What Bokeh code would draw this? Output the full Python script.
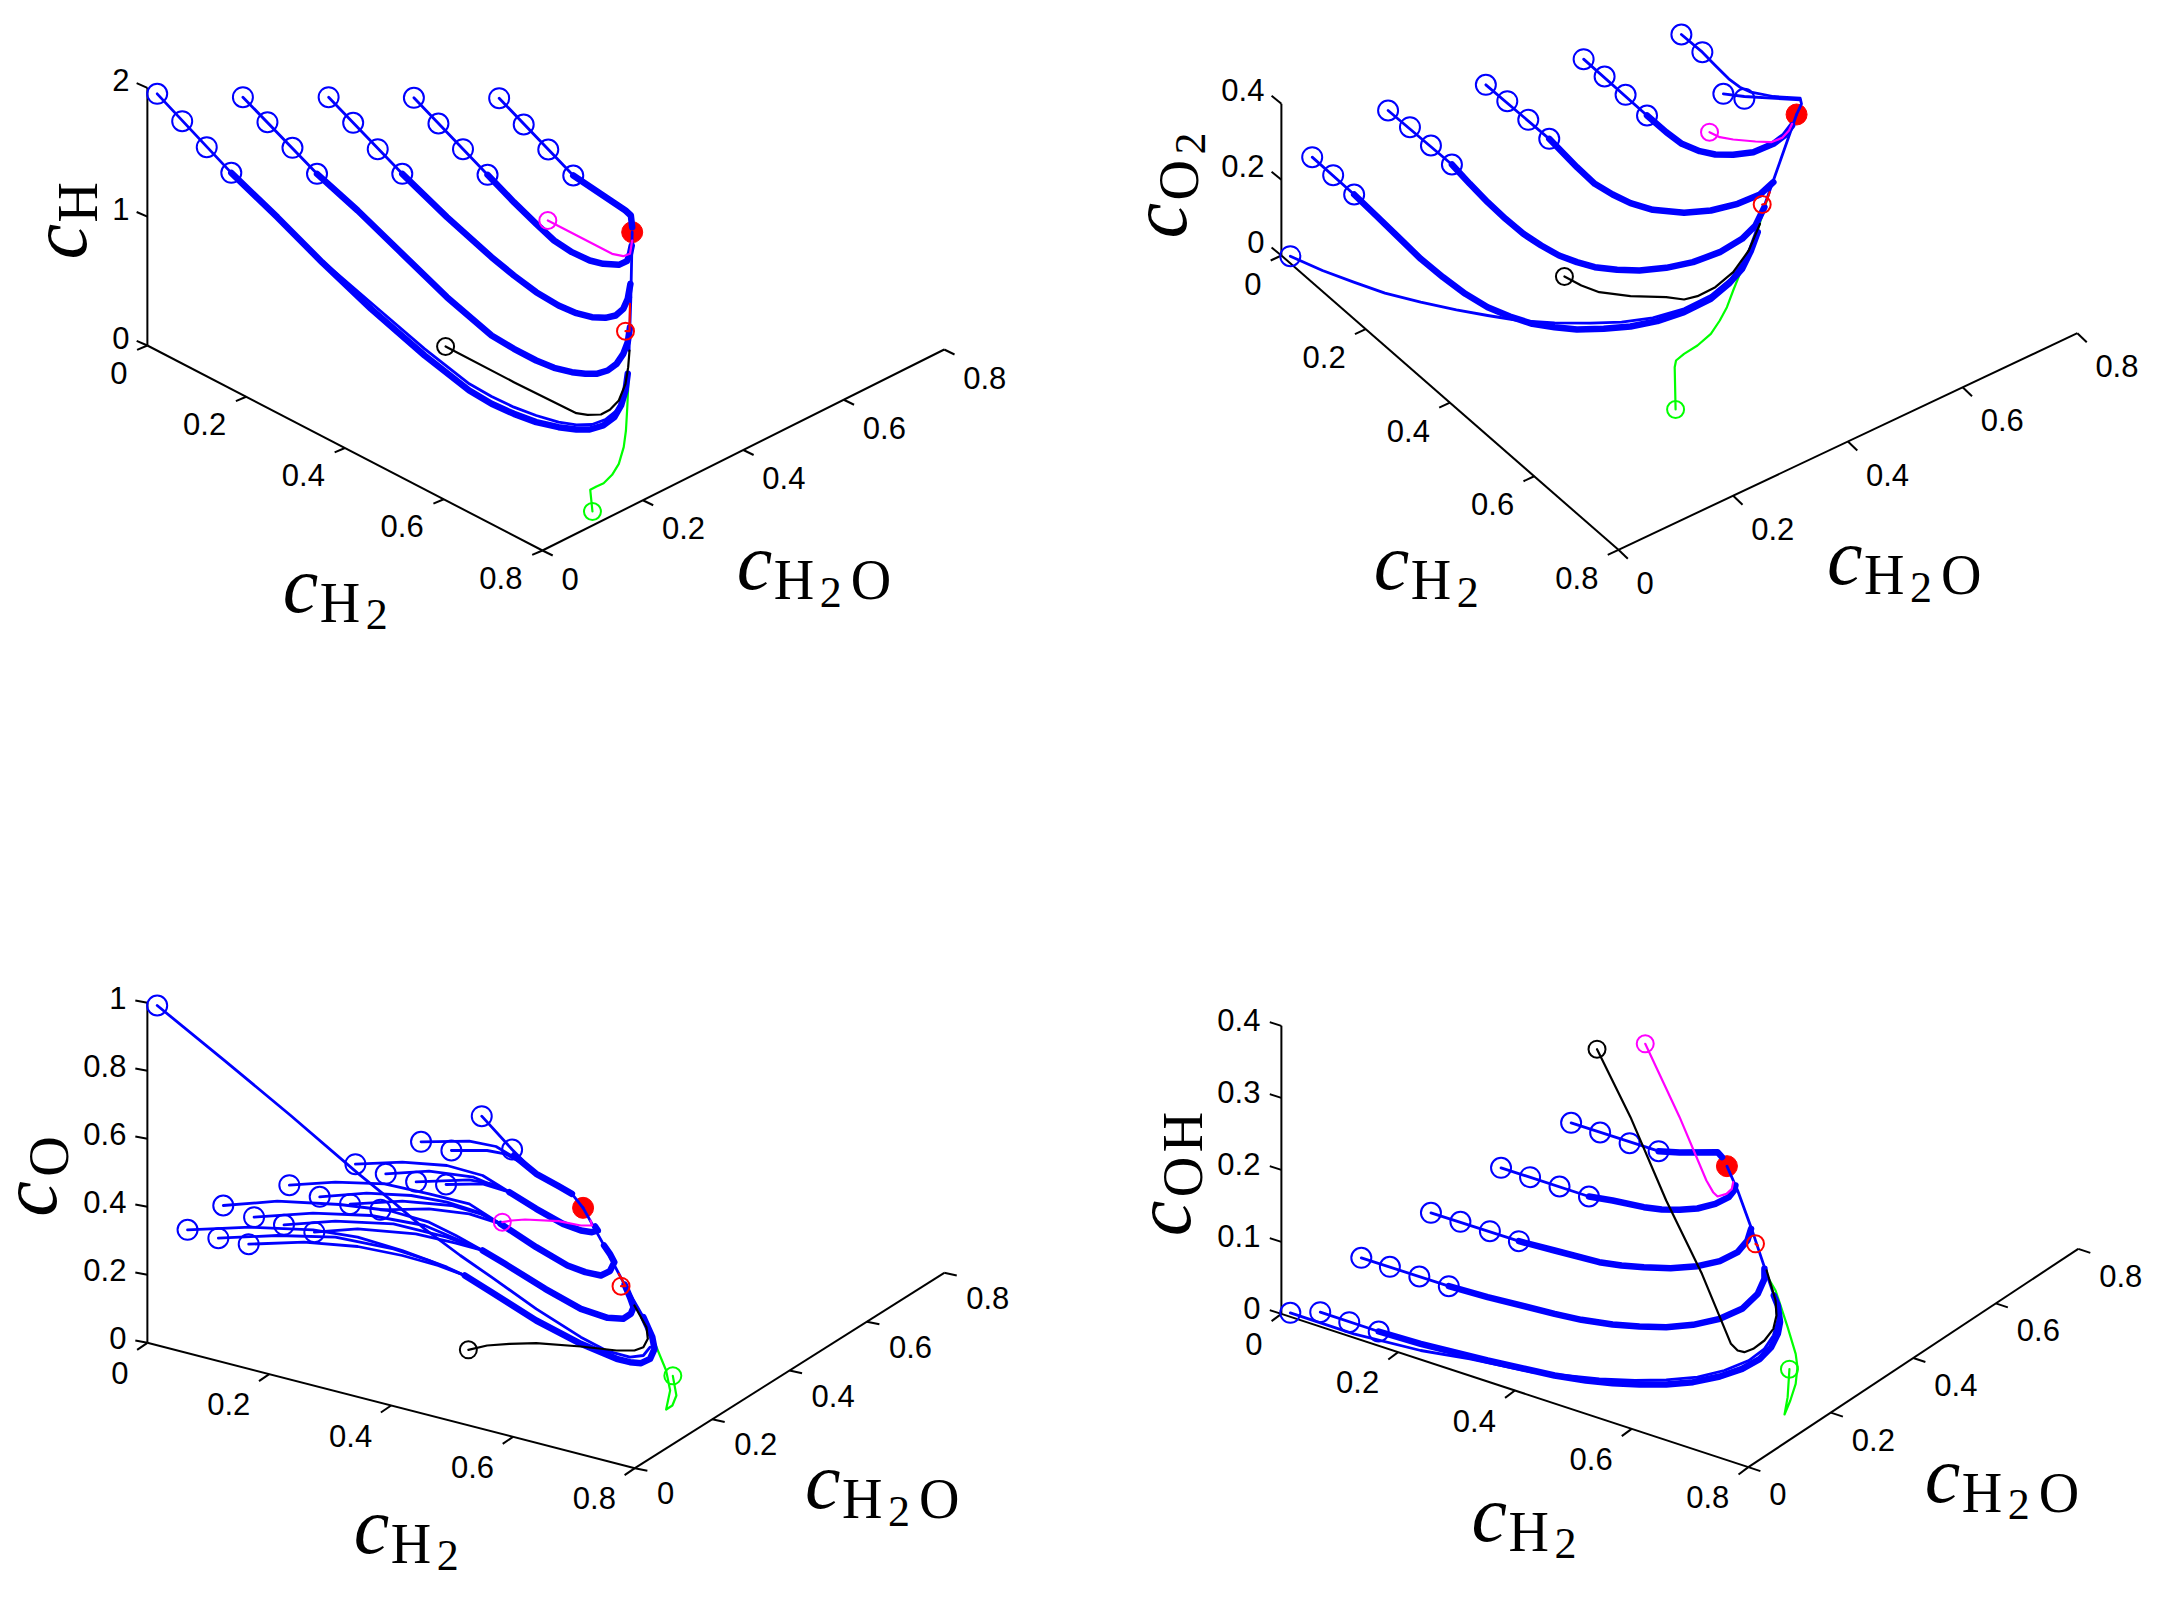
from math import pi
from bokeh.plotting import figure
from bokeh.layouts import column, row
from bokeh.core.properties import value
from bokeh.embed import file_html
from bokeh.resources import INLINE

BLUE, GREEN, MAGENTA, RED, BLACK = "#0000ff", "#00ff00", "#ff00ff", "#ff0000", "#000000"

# horizontal tick values shared by the four panels
H2_TICKS = [0, 0.2, 0.4, 0.6, 0.8]
H2_LABELS = ["0", "0.2", "0.4", "0.6", "0.8"]
H2O_TICKS = [0, 0.2, 0.4, 0.6, 0.8]
H2O_LABELS = ["0", "0.2", "0.4", "0.6", "0.8"]

# ---- panel 1: c_H ----
H_Z_TICKS = [0, 1, 2]
H_Z_LABELS = ["0", "1", "2"]
H_STARTS_X = [1117, 1172, 1227, 1283, 926, 981, 1036, 1091, 735, 790, 845, 900, 543, 598, 654, 709, 351, 407, 462, 517]
H_STARTS_Y = [173, 252, 327, 405, 172, 249, 326, 403, 170, 247, 326, 400, 170, 245, 322, 400, 160, 242, 320, 397]
H_THIN = [
    [(1117, 173), (1283, 405)], [(926, 172), (1091, 403)], [(735, 170), (900, 400)],
    [(543, 170), (709, 400)], [(351, 160), (517, 397)],
    [(517, 397), (620, 530), (720, 660), (850, 810), (950, 925), (1050, 1030), (1100, 1068), (1150, 1100), (1200, 1125), (1250, 1145), (1290, 1153), (1325, 1152), (1355, 1137), (1380, 1110), (1395, 1075), (1403, 1030)],
    [(1412, 770), (1415, 575)], [(1408, 930), (1412, 770)],
]
H_THICK = [
    [(1283, 405), (1400, 510), (1412, 525), (1415, 560)],
    [(1091, 403), (1150, 485), (1200, 550), (1240, 600), (1280, 635), (1320, 660), (1350, 670), (1385, 673), (1403, 662), (1410, 640), (1414, 615)],
    [(900, 400), (1000, 530), (1100, 650), (1150, 705), (1200, 755), (1250, 795), (1290, 818), (1325, 830), (1355, 832), (1378, 825), (1395, 805), (1405, 775), (1411, 730)],
    [(709, 400), (800, 510), (900, 640), (1000, 770), (1100, 885), (1150, 925), (1200, 960), (1240, 982), (1280, 995), (1310, 1000), (1335, 1000), (1360, 990), (1380, 970), (1395, 940), (1405, 905), (1410, 860)],
    [(517, 397), (620, 530), (720, 665), (830, 805), (950, 945), (1050, 1050), (1100, 1090), (1150, 1120), (1200, 1145), (1250, 1160), (1290, 1167), (1320, 1167), (1350, 1155), (1375, 1130), (1390, 1095), (1400, 1050), (1405, 1000)],
]
H_BLACK = [(997, 918), (1150, 1025), (1290, 1118), (1315, 1123), (1345, 1122), (1365, 1108), (1385, 1080), (1400, 1030), (1406, 980), (1409, 930)]
H_MAGENTA = [(1226, 540), (1370, 640), (1395, 647), (1410, 640), (1415, 600)]
H_RED = [(1400, 872), (1409, 872), (1410, 790)]
H_GREEN = [(1326, 1413), (1321, 1348), (1335, 1338), (1351, 1328), (1370, 1303), (1385, 1270), (1396, 1220), (1401, 1170), (1404, 1100), (1407, 1010)]
H_DOTS = dict(end=(1415, 575), black=(997, 918), magenta=(1226, 540), red=(1400, 872), green=(1326, 1413))

# ---- panel 2: c_O2 ----
O2_Z_TICKS = [0, 0.2, 0.4]
O2_Z_LABELS = ["0", "0.2", "0.4"]
O2_STARTS_X = [1234, 1281, 1328, 1375, 1015, 1062, 1109, 1157, 796, 844, 891, 938, 577, 626, 673, 720, 407, 454, 501, 358]
O2_STARTS_Y = [72, 125, 250, 265, 146, 198, 253, 315, 223, 272, 328, 385, 300, 350, 405, 462, 440, 494, 552, 737]
O2_THIN = [
    [(1234, 72), (1281, 125), (1310, 165), (1340, 205), (1365, 230), (1390, 245), (1440, 258), (1500, 263), (1503, 280), (1492, 312)],
    [(1328, 250), (1375, 258), (1500, 268)],
    [(1015, 146), (1157, 315)], [(796, 223), (938, 385)], [(577, 300), (720, 462)], [(407, 440), (501, 552)],
    [(358, 737), (430, 780), (500, 815), (570, 848), (650, 875), (730, 898), (800, 915), (870, 930), (950, 937), (1030, 938), (1100, 935), (1170, 922), (1240, 895), (1300, 855), (1345, 805), (1375, 750), (1400, 680)],
    [(1440, 510), (1492, 312)], [(1400, 660), (1440, 510)],
]
O2_THICK = [
    [(1157, 315), (1200, 365), (1235, 400), (1275, 422), (1310, 432), (1350, 433), (1395, 425), (1440, 400), (1465, 375), (1482, 345)],
    [(938, 385), (1000, 470), (1040, 520), (1080, 552), (1120, 578), (1170, 598), (1240, 607), (1300, 600), (1360, 580), (1410, 552), (1440, 515)],
    [(720, 462), (760, 520), (800, 575), (840, 625), (880, 670), (920, 705), (960, 735), (1000, 755), (1040, 770), (1090, 778), (1140, 780), (1200, 772), (1260, 755), (1320, 725), (1370, 685), (1400, 645), (1420, 590)],
    [(501, 552), (550, 615), (600, 680), (650, 745), (700, 800), (750, 850), (800, 890), (850, 918), (900, 940), (950, 950), (1000, 957), (1060, 955), (1120, 948), (1180, 932), (1240, 905), (1300, 865), (1340, 820), (1370, 775), (1390, 720), (1405, 665)],
]
O2_BLACK = [(972, 798), (1010, 825), (1050, 845), (1120, 857), (1200, 860), (1240, 867), (1270, 857), (1310, 830), (1350, 785), (1385, 720), (1410, 640)]
O2_MAGENTA = [(1297, 365), (1320, 380), (1350, 387), (1400, 393), (1435, 395), (1460, 382), (1475, 360), (1482, 340)]
O2_RED = [(1415, 582), (1422, 580), (1432, 545)]
O2_GREEN = [(1221, 1197), (1219, 1070), (1222, 1050), (1240, 1030), (1270, 1005), (1300, 970), (1320, 930), (1336, 890), (1350, 840), (1365, 790), (1380, 745), (1400, 680), (1430, 550)]
O2_DOTS = dict(end=(1492, 312), black=(972, 798), magenta=(1297, 365), red=(1415, 582), green=(1221, 1197))

# ---- panel 3: c_O ----
O_Z_TICKS = [0, 0.2, 0.4, 0.6, 0.8, 1]
O_Z_LABELS = ["0", "0.2", "0.4", "0.6", "0.8", "1"]
O_STARTS_X = [1078, 1146, 942, 1010, 795, 863, 931, 998, 647, 715, 783, 851, 499, 568, 635, 703, 419, 488, 556, 351]
O_STARTS_Y = [407, 507, 484, 510, 551, 580, 604, 612, 614, 649, 671, 688, 675, 710, 733, 755, 748, 773, 791, 75]
O_THIN = [
    [(1078, 407), (1146, 507), (1200, 580), (1250, 615), (1280, 640), (1305, 682)],
    [(942, 484), (1050, 482), (1110, 498), (1150, 530)],
    [(1010, 510), (1090, 510), (1130, 520), (1165, 545)],
    [(795, 551), (900, 545), (1000, 555), (1080, 585), (1140, 635)],
    [(863, 580), (960, 572), (1060, 590), (1140, 635)],
    [(931, 604), (1050, 598), (1100, 610), (1140, 635)],
    [(998, 612), (1080, 610), (1140, 635)],
    [(647, 614), (750, 605), (860, 610), (960, 640), (1050, 670), (1120, 730)],
    [(715, 649), (820, 638), (920, 645), (1000, 665), (1070, 695), (1120, 730)],
    [(783, 671), (900, 662), (1010, 675), (1075, 700), (1120, 730)],
    [(851, 688), (960, 685), (1050, 700), (1120, 730)],
    [(499, 675), (620, 662), (760, 672), (870, 690), (960, 725), (1020, 765), (1080, 810)],
    [(568, 710), (700, 698), (830, 705), (950, 735), (1020, 775), (1080, 810)],
    [(635, 733), (750, 722), (880, 730), (1000, 770), (1080, 810)],
    [(703, 755), (800, 745), (930, 760), (1020, 788), (1080, 810)],
    [(419, 748), (560, 740), (700, 748), (800, 770), (900, 810), (1000, 860), (1040, 885)],
    [(488, 773), (620, 765), (750, 770), (880, 805), (960, 840), (1040, 885)],
    [(556, 791), (680, 785), (800, 798), (900, 825), (980, 855), (1040, 885)],
    [(351, 75), (500, 238), (650, 405), (800, 578), (880, 665), (950, 745), (1030, 825), (1100, 890), (1200, 985), (1300, 1070), (1360, 1112), (1410, 1130), (1440, 1125), (1455, 1100)],
    [(1305, 682), (1350, 790), (1395, 905), (1440, 1010), (1465, 1100)],
]
O_THICK = [
    [(1150, 525), (1200, 580), (1250, 617), (1280, 640)],
    [(1140, 635), (1200, 685), (1260, 730), (1300, 750), (1325, 755), (1338, 750), (1332, 738)],
    [(1120, 730), (1200, 800), (1270, 855), (1310, 875), (1345, 885), (1365, 872), (1375, 845), (1365, 820), (1352, 795)],
    [(1080, 810), (1130, 850), (1220, 925), (1300, 985), (1360, 1012), (1395, 1015), (1412, 1000), (1418, 980), (1410, 950), (1398, 912)],
    [(1040, 885), (1100, 935), (1200, 1020), (1300, 1090), (1380, 1135), (1410, 1145), (1435, 1148), (1455, 1135), (1465, 1105), (1460, 1070), (1440, 1010)],
]
O_BLACK = [(1048, 1108), (1090, 1095), (1140, 1090), (1200, 1088), (1300, 1098), (1380, 1110), (1420, 1110), (1440, 1100), (1450, 1075), (1447, 1040), (1420, 975)]
O_MAGENTA = [(1124, 725), (1145, 720), (1175, 717), (1250, 722), (1300, 735), (1325, 735), (1322, 720)]
O_RED = [(1390, 917), (1400, 917), (1385, 880)]
O_GREEN = [(1506, 1186), (1514, 1245), (1505, 1275), (1491, 1287), (1500, 1230), (1491, 1170), (1454, 1050), (1420, 970)]
O_DOTS = dict(end=(1305, 682), black=(1048, 1108), magenta=(1124, 725), red=(1390, 917), green=(1506, 1186))

# ---- panel 4: c_OH ----
OH_Z_TICKS = [0, 0.1, 0.2, 0.3, 0.4]
OH_Z_LABELS = ["0", "0.1", "0.2", "0.3", "0.4"]
OH_STARTS_X = [987, 1052, 1118, 1183, 830, 895, 961, 1027, 673, 739, 805, 870, 517, 581, 647, 713, 358, 425, 490, 556]
OH_STARTS_Y = [367, 396, 428, 452, 502, 530, 558, 588, 637, 664, 692, 722, 772, 799, 828, 857, 937, 935, 965, 993]
OH_THIN = [
    [(987, 367), (1183, 452)], [(830, 502), (1027, 588)], [(673, 637), (870, 722)],
    [(517, 772), (713, 857)], [(425, 935), (556, 993)],
    [(358, 937), (500, 1000), (650, 1050), (760, 1075), (900, 1115), (1050, 1135), (1130, 1140), (1200, 1138), (1270, 1130), (1330, 1110), (1385, 1080), (1420, 1045), (1440, 1005), (1450, 960)],
    [(1336, 497), (1360, 570), (1390, 680), (1420, 800), (1440, 880)],
]
OH_THICK = [
    [(1183, 452), (1230, 456), (1315, 455), (1325, 470)],
    [(1027, 588), (1080, 600), (1150, 620), (1190, 627), (1230, 628), (1270, 624), (1310, 610), (1340, 590), (1352, 570), (1355, 555)],
    [(870, 722), (950, 750), (1050, 785), (1100, 795), (1150, 800), (1210, 803), (1270, 797), (1320, 782), (1360, 755), (1382, 720), (1390, 685)],
    [(713, 857), (800, 890), (950, 940), (1010, 958), (1080, 972), (1140, 978), (1200, 980), (1260, 973), (1320, 955), (1370, 925), (1405, 880), (1420, 835), (1420, 805)],
    [(556, 993), (650, 1030), (800, 1080), (950, 1125), (1020, 1140), (1080, 1148), (1140, 1152), (1200, 1152), (1260, 1145), (1320, 1128), (1370, 1105), (1410, 1075), (1435, 1040), (1450, 1000), (1455, 965), (1450, 915), (1441, 885)],
]
OH_BLACK = [(1045, 146), (1120, 350), (1200, 600), (1280, 820), (1345, 1030), (1360, 1050), (1375, 1055), (1395, 1045), (1420, 1020), (1440, 985), (1447, 945), (1445, 900), (1425, 810)]
OH_MAGENTA = [(1153, 130), (1230, 350), (1290, 540), (1305, 575), (1315, 588), (1335, 580), (1347, 565), (1350, 545)]
OH_RED = [(1400, 730), (1405, 735)]
OH_GREEN = [(1476, 1106), (1472, 1190), (1465, 1242), (1478, 1200), (1490, 1150), (1494, 1100), (1490, 1060), (1472, 980), (1445, 870), (1423, 820)]
OH_DOTS = dict(end=(1336, 497), black=(1045, 146), magenta=(1153, 130), red=(1400, 730), green=(1476, 1106))

# math label pieces: text, font px, style, offset along the text, offset below the baseline
C = ("c", 80, "italic", -4, 0)
LABEL_H2 = [C, ("H", 56, "normal", 33, 10), ("2", 44, "normal", 79, 18)]
LABEL_H2O = LABEL_H2 + [("O", 56, "normal", 110, 10)]

PANELS = [
    dict(box=(0, 1076, 790, 0), off=(0, 40), sx=2.24, axis_x=329, base=915, top=142,
         corner=(1214, 1530), end=(2114, 927), d_z=(-24, -14), d_h2=(-23, 13), d_h2o=(23, 15),
         l_z=(-18, -8), l_h2=(-20, 27), l_h2o=(19, 28),
         z=(H_Z_TICKS, H_Z_LABELS), starts=(H_STARTS_X, H_STARTS_Y), thin=H_THIN, thick=H_THICK,
         black=H_BLACK, magenta=H_MAGENTA, red=H_RED, green=H_GREEN, dots=H_DOTS,
         a_h2=(641, 1713), a_h2o=(1658, 1645), a_z=(190, 645),
         z_parts=[C, ("H", 56, "normal", 33, 11)]),
    dict(box=(1076, 2152, 790, 0), off=(1130, 10), sx=2.24, axis_x=338, base=735, top=280,
         corner=(1093, 1618), end=(2121, 968), d_z=(-22, -24), d_h2=(-24, 15), d_h2o=(21, 27),
         l_z=(-17, -14), l_h2=(-20, 28), l_h2o=(18, 33),
         z=(O2_Z_TICKS, O2_Z_LABELS), starts=(O2_STARTS_X, O2_STARTS_Y), thin=O2_THIN, thick=O2_THICK,
         black=O2_BLACK, magenta=O2_MAGENTA, red=O2_RED, green=O2_GREEN, dots=O2_DOTS,
         a_h2=(554, 1735), a_h2o=(1569, 1720), a_z=(122, 672),
         z_parts=[C, ("O", 56, "normal", 34, 12.5), ("2", 44, "normal", 80, 20.5)]),
    dict(box=(0, 1076, 1580, 790), off=(0, 980), sx=2.24, axis_x=329, base=1087, top=67,
         corner=(1421, 1463), end=(2114, 877), d_z=(-27, -7), d_h2=(-23, 21), d_h2o=(28, 8),
         l_z=(-21, -5), l_h2=(-19, 30), l_h2o=(22, 25),
         z=(O_Z_TICKS, O_Z_LABELS), starts=(O_STARTS_X, O_STARTS_Y), thin=O_THIN, thick=O_THICK,
         black=O_BLACK, magenta=O_MAGENTA, red=O_RED, green=O_GREEN, dots=O_DOTS,
         a_h2=(800, 1716), a_h2o=(1811, 1582), a_z=(122, 697),
         z_parts=[C, ("O", 56, "normal", 36, 12.5)]),
    dict(box=(1076, 2152, 1580, 790), off=(1130, 1000), sx=2.24, axis_x=338, base=940, top=76,
         corner=(1384, 1400), end=(2123, 745), d_z=(-26, -11), d_h2=(-22, 22), d_h2o=(27, 12),
         l_z=(-21, -6), l_h2=(-19, 30), l_h2o=(21, 27),
         z=(OH_Z_TICKS, OH_Z_LABELS), starts=(OH_STARTS_X, OH_STARTS_Y), thin=OH_THIN, thick=OH_THICK,
         black=OH_BLACK, magenta=OH_MAGENTA, red=OH_RED, green=OH_GREEN, dots=OH_DOTS,
         a_h2=(773, 1620), a_h2o=(1788, 1502), a_z=(132, 695),
         z_parts=[C, ("O", 56, "normal", 35, 12), ("H", 56, "normal", 80, 12)]),
]
SY = 3.0
TICK_FONT = value("Liberation Sans")
MATH_FONT = value("Liberation Serif")
MIDDLE_SHIFT = 0.33


def polyline(p, pts, color, width):
    p.line([q[0] for q in pts], [q[1] for q in pts], line_color=color, line_width=width,
           line_join="round", line_cap="round")


def ticklabels(p, xs, ys, labels, offset, align):
    p.text(x=xs, y=ys, text=labels, x_offset=offset[0], y_offset=offset[1], text_align=align,
           text_baseline="middle", text_font=TICK_FONT, text_font_size=value("31px"), text_color=BLACK)


def mathlabel(p, anchor, parts, rotated=False):
    for t, size, style, along, drop in parts:
        drop = drop - MIDDLE_SHIFT * size
        dx, dy = (drop, -along) if rotated else (along, drop)
        p.text(x=[anchor[0]], y=[anchor[1]], text=[t], x_offset=dx, y_offset=dy,
               angle=pi / 2 if rotated else 0, text_align="left", text_baseline="middle",
               text_font=MATH_FONT, text_font_style=style, text_font_size=value(f"{size}px"),
               text_color=BLACK)


def ticks(p, xs, ys, delta):
    p.segment(xs, ys, [x + delta[0] for x in xs], [y + delta[1] for y in ys], line_color=BLACK, line_width=2)


def panel(c):
    left, right, bottom, top = c["box"]
    ox, oy = c["off"]
    sx = c["sx"]
    p = figure(width=1076, height=790, output_backend="svg", toolbar_location=None,
               x_axis_type=None, y_axis_type=None,
               x_range=((left - ox) * sx, (right - ox) * sx),
               y_range=((bottom - oy) * SY, (top - oy) * SY),
               min_border=0, outline_line_color=None, background_fill_color="white")
    p.grid.visible = False

    ax, base, ztop = c["axis_x"], c["base"], c["top"]
    cx, cy = c["corner"]
    ex, ey = c["end"]
    zvals, zlabels = c["z"]
    zs = [base + (ztop - base) * v / zvals[-1] for v in zvals]

    p.segment([ax, ax, cx], [ztop, base, cy], [ax, cx, ex], [base, cy, ey], line_color=BLACK, line_width=2)
    ticks(p, [ax] * len(zs), zs, c["d_z"])
    h2x = [ax + (cx - ax) * v / H2_TICKS[-1] for v in H2_TICKS]
    h2y = [base + (cy - base) * v / H2_TICKS[-1] for v in H2_TICKS]
    wx = [cx + (ex - cx) * v / H2O_TICKS[-1] for v in H2O_TICKS]
    wy = [cy + (ey - cy) * v / H2O_TICKS[-1] for v in H2O_TICKS]
    ticks(p, h2x, h2y, c["d_h2"])
    ticks(p, wx, wy, c["d_h2o"])
    ticklabels(p, [ax] * len(zs), zs, zlabels, c["l_z"], "right")
    ticklabels(p, h2x, h2y, H2_LABELS, c["l_h2"], "right")
    ticklabels(p, wx, wy, H2O_LABELS, c["l_h2o"], "left")
    mathlabel(p, c["a_h2"], LABEL_H2)
    mathlabel(p, c["a_h2o"], LABEL_H2O)
    mathlabel(p, c["a_z"], c["z_parts"], rotated=True)

    d = c["dots"]
    p.scatter([d["end"][0]], [d["end"][1]], marker="circle", size=21, fill_color=RED, line_color=RED)
    polyline(p, c["green"], GREEN, 2.2)
    for pts in c["thin"]:
        polyline(p, pts, BLUE, 2.8)
    for pts in c["thick"]:
        polyline(p, pts, BLUE, 6.5)
    p.scatter(c["starts"][0], c["starts"][1], marker="circle", size=20, fill_color=None,
              line_color=BLUE, line_width=2)
    for key, color in (("black", BLACK), ("red", RED), ("magenta", MAGENTA)):
        polyline(p, c[key], color, 2.2)
    for key, color in (("black", BLACK), ("green", GREEN), ("red", RED), ("magenta", MAGENTA)):
        p.scatter([d[key][0]], [d[key][1]], marker="circle", size=17, fill_color=None,
                  line_color=color, line_width=2)
    return p


figs = [panel(c) for c in PANELS]
layout = column(row(figs[0], figs[1], spacing=0), row(figs[2], figs[3], spacing=0), spacing=0)
open("out.html", "w").write(file_html(layout, INLINE, title="chart"))
